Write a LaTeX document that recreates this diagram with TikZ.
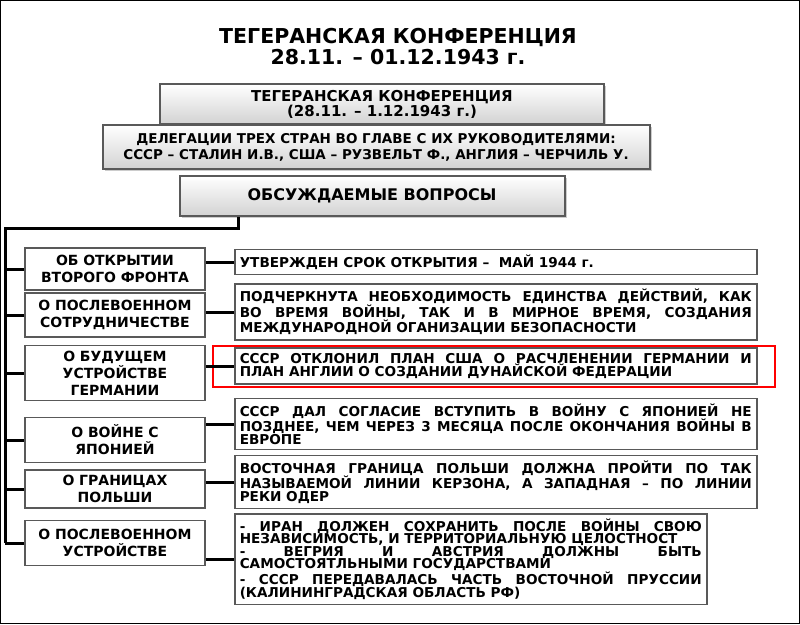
\documentclass[tikz,border=0pt]{standalone}
\usepackage{fontspec}
\setmainfont{DejaVu Sans}
\usetikzlibrary{positioning, shadows}
\tikzset{
    x=1pt, y=1pt,
    headbox/.style={draw=gray!70!black, line width=2pt, top color=white, bottom color=gray!35,
        drop shadow={opacity=0.4, shadow xshift=2pt, shadow yshift=-2pt},
        align=center, font=\fontsize{15}{15}\selectfont\bfseries, inner sep=2pt},
    issue/.style={draw=gray!70!black, line width=1.5pt, fill=white, align=center,
        minimum width=180, text width=176, font=\fontsize{14}{17}\selectfont\bfseries, inner sep=2pt},
    answer/.style={draw=gray!70!black, line width=1.5pt, fill=white, align=justify,
        text width=512, font=\fontsize{13.6}{12.5}\selectfont\bfseries, inner sep=5pt, anchor=west},
    link/.style={line width=3pt, black}
}
\begin{document}
\begin{tikzpicture}
  \useasboundingbox (0,0) rectangle (800,-624);
  \draw[line width=1.2pt] (0.6,-0.6) rectangle (799.4,-623.4);

  % title
  \node[font=\fontsize{20.5}{21}\selectfont\bfseries, align=center] (title) at (398,-47)
    {ТЕГЕРАНСКАЯ КОНФЕРЕНЦИЯ\\28.11. – 01.12.1943 г.};

  % header boxes
  \node[headbox, minimum width=444, minimum height=40] (conf) at (382,-104)
    {ТЕГЕРАНСКАЯ КОНФЕРЕНЦИЯ\\(28.11. – 1.12.1943 г.)};
  \node[headbox, minimum width=547, minimum height=44, font=\fontsize{13.5}{16}\selectfont\bfseries] (deleg) at (376,-147)
    {ДЕЛЕГАЦИИ ТРЕХ СТРАН ВО ГЛАВЕ С ИХ РУКОВОДИТЕЛЯМИ:\\СССР – СТАЛИН И.В., США – РУЗВЕЛЬТ Ф., АНГЛИЯ – ЧЕРЧИЛЬ У.};
  \node[headbox, minimum width=385, minimum height=40, font=\fontsize{16}{16}\selectfont\bfseries] (topics) at (372,-196)
    {ОБСУЖДАЕМЫЕ ВОПРОСЫ};

  % issues
  \node[issue, minimum height=42] (i1) at (115,-269) {ОБ ОТКРЫТИИ\\ВТОРОГО ФРОНТА};
  \node[issue, minimum height=44] (i2) at (115,-315) {О ПОСЛЕВОЕННОМ\\СОТРУДНИЧЕСТВЕ};
  \node[issue, minimum height=55] (i3) at (115,-373) {О БУДУЩЕМ\\УСТРОЙСТВЕ\\ГЕРМАНИИ};
  \node[issue, minimum height=45] (i4) at (115,-440) {О ВОЙНЕ С\\ЯПОНИЕЙ};
  \node[issue, minimum height=38] (i5) at (115,-489) {О ГРАНИЦАХ\\ПОЛЬШИ};
  \node[issue, minimum height=45] (i6) at (115,-543) {О ПОСЛЕВОЕННОМ\\УСТРОЙСТВЕ};

  % answers
  \node[answer] (a1) at (234,-262) {УТВЕРЖДЕН СРОК ОТКРЫТИЯ –~~МАЙ 1944 г.};
  \node[answer] (a2) at (234,-312) {ПОДЧЕРКНУТА НЕОБХОДИМОСТЬ ЕДИНСТВА ДЕЙСТВИЙ, КАК ВО ВРЕМЯ ВОЙНЫ, ТАК И В МИРНОЕ ВРЕМЯ, СОЗДАНИЯ МЕЖДУНАРОДНОЙ ОГАНИЗАЦИИ БЕЗОПАСНОСТИ};
  \node[answer] (a3) at (234,-366) {СССР ОТКЛОНИЛ ПЛАН США О РАСЧЛЕНЕНИИ ГЕРМАНИИ И\linebreak ПЛАН АНГЛИИ О СОЗДАНИИ ДУНАЙСКОЙ ФЕДЕРАЦИИ};
  \node[answer] (a4) at (234,-424) {СССР ДАЛ СОГЛАСИЕ ВСТУПИТЬ В ВОЙНУ С ЯПОНИЕЙ НЕ ПОЗДНЕЕ, ЧЕМ ЧЕРЕЗ 3 МЕСЯЦА ПОСЛЕ ОКОНЧАНИЯ ВОЙНЫ В ЕВРОПЕ};
  \node[answer] (a5) at (234,-482) {ВОСТОЧНАЯ ГРАНИЦА ПОЛЬШИ ДОЛЖНА ПРОЙТИ ПО ТАК НАЗЫВАЕМОЙ ЛИНИИ КЕРЗОНА, А ЗАПАДНАЯ – ПО ЛИНИИ\linebreak РЕКИ ОДЕР};
  \node[answer, text width=462] (a6) at (234,-559) {- ИРАН ДОЛЖЕН СОХРАНИТЬ ПОСЛЕ ВОЙНЫ СВОЮ\linebreak НЕЗАВИСИМОСТЬ, И ТЕРРИТОРИАЛЬНУЮ ЦЕЛОСТНОСТ\newline
    - ВЕГРИЯ И АВСТРИЯ ДОЛЖНЫ БЫТЬ\linebreak САМОСТОЯТЛЬНЫМИ ГОСУДАРСТВАМИ\newline
    - СССР ПЕРЕДАВАЛАСЬ ЧАСТЬ ВОСТОЧНОЙ ПРУССИИ\linebreak (КАЛИНИНГРАДСКАЯ ОБЛАСТЬ РФ)};

  % highlight
  \node[draw=red, line width=1.2pt, minimum width=562, minimum height=41] (mark) at (494,-366.5) {};

  % connectors
  \coordinate (top) at (5,-228);
  \coordinate (bottom) at (5,-543);
  \draw[link] (topics.south -| 238,0) -- (238,-228) -- (top) -- (bottom);
  \foreach \i in {1,...,6} {
    \draw[link] (i\i.west) -- (i\i.west -| top);
    \draw[link] (a\i.west) -- (a\i.west -| i\i.east);
  }
\end{tikzpicture}
\end{document}
